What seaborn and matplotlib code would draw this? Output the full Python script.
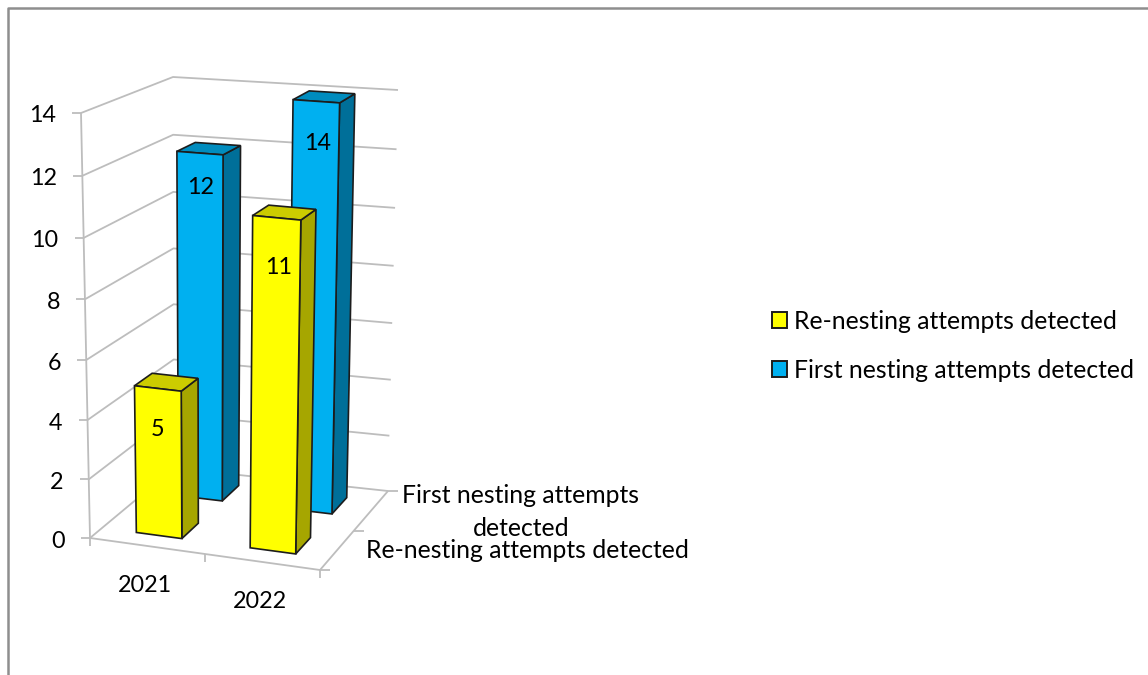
import numpy as np
import pandas as pd
import matplotlib
matplotlib.use("Agg")
import matplotlib.pyplot as plt
from matplotlib.patches import Polygon
from matplotlib.transforms import Affine2D, Transform
import seaborn as sns

# Chart data
years = ["2021", "2022"]
series_names = ["Re-nesting attempts detected", "First nesting attempts detected"]
renesting_attempts = [5, 11]
first_attempts = [12, 14]
value_ticks = [0, 2, 4, 6, 8, 10, 12, 14]

# Colours: front, side and top shading of each series
FRONT = {series_names[0]: "#FFFF00", series_names[1]: "#00B0F0"}
SIDE = {series_names[0]: "#A6A600", series_names[1]: "#006F99"}
TOP = {series_names[0]: "#CCCC00", series_names[1]: "#008CBE"}
DEPTH = {series_names[0]: 0.5, series_names[1]: 1.53}
EDGE = "#1c1c1c"
GRID = "#BDBDBD"
FRAME = "#8E8E8E"
TEXT = "#000000"

W, H = 1148, 675
BAR_DEPTH = 0.42
TOP_VALUE = 14
FORESHORTEN = 0.04
NUMBER_SIZE = 16.8
LABEL_SIZE = 17.8

sns.set_style("white")
plt.rcParams["font.family"] = ["Lato", "DejaVu Sans"]

# Corners of the plot box in canvas pixels, indexed by (category, depth, value)
BOX = {
    (0, 0, 0): (90, 538), (1, 0, 0): (320, 570),
    (0, 1, 0): (174, 468), (1, 1, 0): (388, 491),
    (0, 0, 1): (81, 113), (1, 0, 1): (329, 135),
    (0, 1, 1): (173, 77), (1, 1, 1): (398, 90),
}


def project(u, v, w):
    """Trilinear map from (category 0-2, depth 0-2, value) to canvas pixels."""
    a, b, t = np.asarray(u) / 2.0, np.asarray(v) / 2.0, np.asarray(w) / TOP_VALUE
    # The value axis is slightly compressed near the floor by the viewing angle
    c = t * (1 - FORESHORTEN * (1 - t))
    px = 0.0
    py = 0.0
    for (i, j, k), (x, y) in BOX.items():
        weight = (a if i else 1 - a) * (b if j else 1 - b) * (c if k else 1 - c)
        px = px + weight * x
        py = py + weight * y
    return np.array([px, py]).T


fig = plt.figure(figsize=(W / 100, H / 100), dpi=100)
ax = fig.add_axes([0, 0, 1, 1])
canvas = Affine2D().scale(1, -1).translate(0, H)


class FrontFace(Transform):
    """Places a bar's (category position, value) rectangle on a depth plane."""
    input_dims = 2
    output_dims = 2
    is_separable = False

    def __init__(self, plane):
        super().__init__()
        self.plane = plane

    def transform_non_affine(self, xy):
        xy = np.asarray(xy, dtype=float)
        pts = project(xy[:, 0] + 0.5, np.full(len(xy), self.plane), xy[:, 1])
        return canvas.transform(pts)


df = pd.DataFrame({
    "year": years * 2,
    "attempts": renesting_attempts + first_attempts,
    "series": [series_names[0]] * 2 + [series_names[1]] * 2,
})

sns.barplot(
    data=df, x="year", y="attempts", hue="series", hue_order=series_names,
    palette=FRONT, saturation=1, dodge=False, width=0.4, edgecolor=EDGE,
    linewidth=1.2, ax=ax,
)


def line(xs, ys, color=GRID, lw=1.3, z=1):
    ax.plot(xs, ys, color=color, lw=lw, transform=canvas, zorder=z,
            clip_on=False, solid_capstyle="butt")


# Chart frame, open on the right and at the bottom
line([7.5, 7.5, W], [H, 8, 8], color=FRAME, lw=1.8)

# Gridlines run along the left wall and then the back wall
for value in value_ticks:
    pts = project([0, 0, 2], [0, 2, 2], [value] * 3)
    line(pts[:, 0], pts[:, 1])
    start = project(0, 0, value)
    line([start[0] - 9, start[0]], [start[1], start[1]])
    ax.text(start[0] - 25, start[1] + 3, str(value), transform=canvas,
            ha="right", va="center", fontsize=NUMBER_SIZE, color=TEXT)

# Axis edges and floor outline
for a, b in [((0, 0, 0), (0, 0, TOP_VALUE)), ((0, 0, 0), (2, 0, 0)),
             ((2, 0, 0), (2, 2, 0))]:
    pts = project(*np.array([a, b]).T)
    line(pts[:, 0], pts[:, 1])
for u in [0, 1, 2]:
    p = project(u, 0, 0)
    line([p[0], p[0]], [p[1], p[1] + 8])
for v in [0, 1, 2]:
    p = project(2, v, 0)
    line([p[0], p[0] + 10], [p[1], p[1]])

# Extrude the bars: the rectangles stay seaborn's, sides and tops follow them
for name, container in zip(series_names, ax.containers):
    front_depth = DEPTH[name] - BAR_DEPTH / 2
    back_depth = DEPTH[name] + BAR_DEPTH / 2
    z = 3 if name == series_names[1] else 5
    for rect in container:
        x0 = rect.get_x() + 0.5
        x1 = x0 + rect.get_width()
        value = rect.get_height()
        rect.set_transform(FrontFace(front_depth))
        rect.set_zorder(z + 0.2)
        rect.set_clip_on(False)
        side = project([x1, x1, x1, x1], [front_depth, back_depth, back_depth, front_depth],
                       [0, 0, value, value])
        top = project([x0, x1, x1, x0], [front_depth, front_depth, back_depth, back_depth],
                      [value] * 4)
        for pts, shade in ((side, SIDE[name]), (top, TOP[name])):
            ax.add_patch(Polygon(pts, closed=True, facecolor=shade, edgecolor=EDGE,
                                 linewidth=1.2, transform=canvas, zorder=z,
                                 clip_on=False))

# Value labels sit inside the bars
value_label_xy = {
    (series_names[0], 0): (158, 430), (series_names[0], 1): (279, 268),
    (series_names[1], 0): (201, 188), (series_names[1], 1): (318, 143),
}
for name, values in zip(series_names, (renesting_attempts, first_attempts)):
    for i, value in enumerate(values):
        x, y = value_label_xy[(name, i)]
        ax.text(x, y, str(value), transform=canvas, ha="center", va="center",
                fontsize=NUMBER_SIZE, color=TEXT, zorder=8)

# Category and depth axis labels
for label, (x, y) in zip(years, [(145, 586), (260, 601)]):
    ax.text(x, y, label, transform=canvas, ha="center", va="center",
            fontsize=NUMBER_SIZE, color=TEXT)
ax.text(521, 512, "First nesting attempts\ndetected", transform=canvas, ha="center",
        va="center", multialignment="center", linespacing=1.48, fontsize=LABEL_SIZE,
        color=TEXT, zorder=6)
ax.text(527, 551, series_names[0], transform=canvas, ha="center", va="center",
        fontsize=LABEL_SIZE, color=TEXT, zorder=7)

ax.set_xlim(-0.5, 1.5)
ax.set_ylim(0, TOP_VALUE)
ax.set_axis_off()

sns.move_legend(
    ax, "center left", bbox_to_anchor=(772 / W, 1 - 346 / H), title=None, frameon=False,
    fontsize=LABEL_SIZE, handlelength=0.62, handleheight=0.62, handletextpad=0.25,
    labelspacing=1.05, borderpad=0, borderaxespad=0, labelcolor=TEXT,
)
for handle in ax.get_legend().legend_handles:
    handle.set_edgecolor(EDGE)
    handle.set_linewidth(1.4)

fig.savefig("out.png", dpi=100, facecolor="white")
